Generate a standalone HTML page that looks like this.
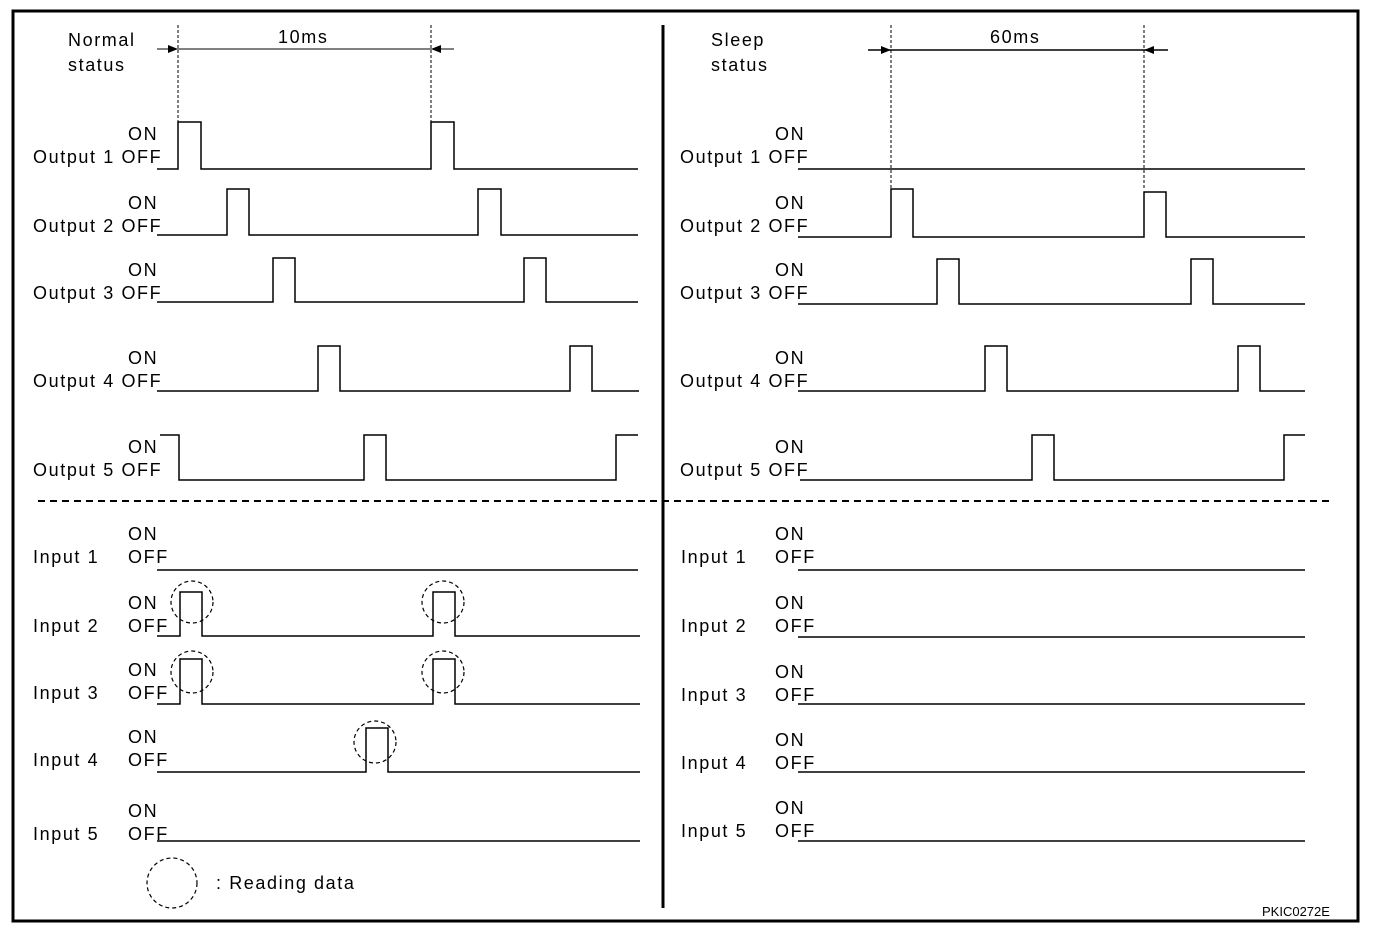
<!DOCTYPE html>
<html><head><meta charset="utf-8"><style>
html,body{margin:0;padding:0;background:#fff;}
svg{display:block;}
text{font-family:"Liberation Sans",sans-serif;font-size:18px;fill:#000;letter-spacing:1.6px;}
</style></head><body>
<svg width="1392" height="938" viewBox="0 0 1392 938" xmlns="http://www.w3.org/2000/svg">
<rect x="13" y="11" width="1345" height="910" fill="none" stroke="#000" stroke-width="3"/>
<line x1="663" y1="25" x2="663" y2="908" stroke="#000" stroke-width="3"/>
<line x1="38" y1="501" x2="1330" y2="501" stroke="#000" stroke-width="2" stroke-dasharray="7,5"/>

<g fill="none" stroke="#000" stroke-width="1.5">
<line x1="178" y1="25" x2="178" y2="122" stroke-dasharray="3,2" stroke-width="1"/>
<line x1="431" y1="25" x2="431" y2="122" stroke-dasharray="3,2" stroke-width="1"/>
<line x1="157" y1="49" x2="454" y2="49" stroke-width="1"/>
<line x1="891" y1="25" x2="891" y2="189" stroke-dasharray="3,2" stroke-width="1"/>
<line x1="1144" y1="25" x2="1144" y2="189" stroke-dasharray="3,2" stroke-width="1"/>
<line x1="868" y1="50" x2="1168" y2="50" stroke-width="1.5"/>

<polyline points="157,169 178,169 178,122 201,122 201,169 431,169 431,122 454,122 454,169 638,169"/>
<polyline points="157,235 227,235 227,189 249,189 249,235 478,235 478,189 501,189 501,235 638,235"/>
<polyline points="157,302 273,302 273,258 295,258 295,302 524,302 524,258 546,258 546,302 638,302"/>
<polyline points="157,391 318,391 318,346 340,346 340,391 570,391 570,346 592,346 592,391 639,391"/>
<polyline points="160,435 179,435 179,480 364,480 364,435 386,435 386,480 616,480 616,435 638,435"/>
<line x1="157" y1="570" x2="638" y2="570"/>
<polyline points="157,636 180,636 180,592 202,592 202,636 433,636 433,592 455,592 455,636 640,636"/>
<polyline points="157,704 180,704 180,659 202,659 202,704 433,704 433,659 455,659 455,704 640,704"/>
<polyline points="157,772 366,772 366,728 388,728 388,772 640,772"/>
<line x1="157" y1="841" x2="640" y2="841"/>

<line x1="798" y1="169" x2="1305" y2="169"/>
<polyline points="798,237 891,237 891,189 913,189 913,237 1144,237 1144,192 1166,192 1166,237 1305,237"/>
<polyline points="798,304 937,304 937,259 959,259 959,304 1191,304 1191,259 1213,259 1213,304 1305,304"/>
<polyline points="798,391 985,391 985,346 1007,346 1007,391 1238,391 1238,346 1260,346 1260,391 1305,391"/>
<polyline points="800,480 1032,480 1032,435 1054,435 1054,480 1284,480 1284,435 1305,435"/>
<line x1="798" y1="570" x2="1305" y2="570"/>
<line x1="798" y1="637" x2="1305" y2="637"/>
<line x1="798" y1="704" x2="1305" y2="704"/>
<line x1="798" y1="772" x2="1305" y2="772"/>
<line x1="798" y1="841" x2="1305" y2="841"/>

<g stroke-dasharray="4,3" stroke-width="1.2">
<circle cx="192" cy="602" r="21"/><circle cx="443" cy="602" r="21"/>
<circle cx="192" cy="672" r="21"/><circle cx="443" cy="672" r="21"/>
<circle cx="375" cy="742" r="21"/>
<circle cx="172" cy="883" r="25"/>
</g>
</g>
<polygon points="178,49 168,45 168,53" fill="#000"/>
<polygon points="431,49 441,45 441,53" fill="#000"/>
<polygon points="891,50 881,46 881,54" fill="#000"/>
<polygon points="1144,50 1154,46 1154,54" fill="#000"/>

<text x="68" y="46">Normal</text><text x="68" y="71">status</text>
<text x="278" y="43">10ms</text>
<text x="711" y="46">Sleep</text><text x="711" y="71">status</text>
<text x="990" y="43">60ms</text>

<g>
<text x="128" y="140">ON</text><text x="33" y="163">Output 1 OFF</text>
<text x="128" y="209">ON</text><text x="33" y="232">Output 2 OFF</text>
<text x="128" y="276">ON</text><text x="33" y="299">Output 3 OFF</text>
<text x="128" y="364">ON</text><text x="33" y="387">Output 4 OFF</text>
<text x="128" y="453">ON</text><text x="33" y="476">Output 5 OFF</text>

<text x="775" y="140">ON</text><text x="680" y="163">Output 1 OFF</text>
<text x="775" y="209">ON</text><text x="680" y="232">Output 2 OFF</text>
<text x="775" y="276">ON</text><text x="680" y="299">Output 3 OFF</text>
<text x="775" y="364">ON</text><text x="680" y="387">Output 4 OFF</text>
<text x="775" y="453">ON</text><text x="680" y="476">Output 5 OFF</text>

<text x="128" y="540">ON</text><text x="128" y="563">OFF</text><text x="33" y="563">Input 1</text>
<text x="128" y="609">ON</text><text x="128" y="632">OFF</text><text x="33" y="632">Input 2</text>
<text x="128" y="676">ON</text><text x="128" y="699">OFF</text><text x="33" y="699">Input 3</text>
<text x="128" y="743">ON</text><text x="128" y="766">OFF</text><text x="33" y="766">Input 4</text>
<text x="128" y="817">ON</text><text x="128" y="840">OFF</text><text x="33" y="840">Input 5</text>

<text x="775" y="540">ON</text><text x="775" y="563">OFF</text><text x="681" y="563">Input 1</text>
<text x="775" y="609">ON</text><text x="775" y="632">OFF</text><text x="681" y="632">Input 2</text>
<text x="775" y="678">ON</text><text x="775" y="701">OFF</text><text x="681" y="701">Input 3</text>
<text x="775" y="746">ON</text><text x="775" y="769">OFF</text><text x="681" y="769">Input 4</text>
<text x="775" y="814">ON</text><text x="775" y="837">OFF</text><text x="681" y="837">Input 5</text>
</g>
<text x="216" y="889">: Reading data</text>
<text x="1262" y="916" style="font-size:13px;letter-spacing:0">PKIC0272E</text>
</svg>
</body></html>
